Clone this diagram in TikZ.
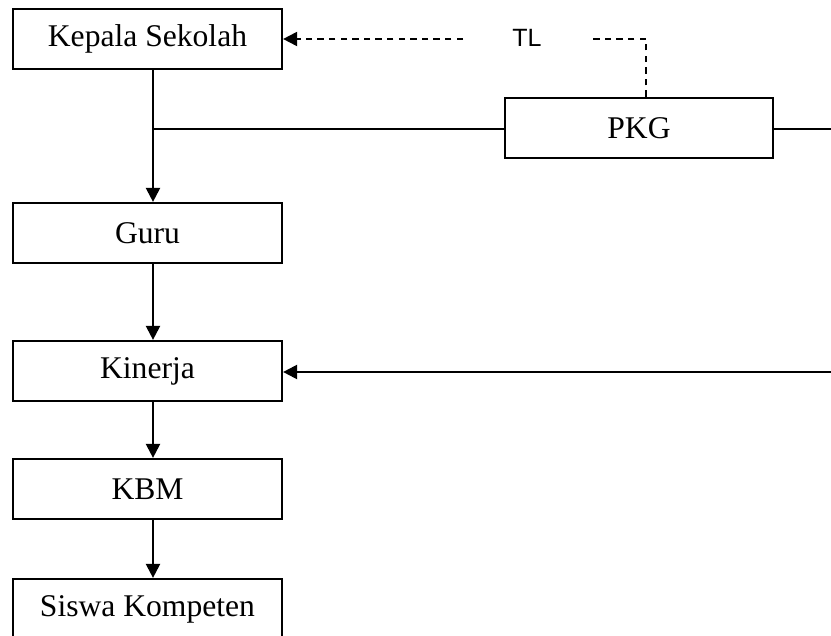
\documentclass[tikz,border=0pt]{standalone}
\usepackage{fontspec}
\setmainfont{Liberation Serif}
\newfontfamily\tlfont{Liberation Sans}
\usetikzlibrary{arrows.meta}
\begin{document}
\begin{tikzpicture}[x=0.5pt,y=-0.5pt,
  box/.style={draw,line width=1.1pt,minimum width=134.5pt,minimum height=30pt,inner sep=0pt,font=\fontsize{15.8}{18}\selectfont},
  conn/.style={line width=1.1pt},
  arr/.style={conn,-{Triangle[length=7pt,width=7pt]}},
  dashline/.style={line width=1pt,dash pattern=on 3.2pt off 2.6pt},
  dasharr/.style={dashline,-{Triangle[length=7pt,width=7pt]}}]
\useasboundingbox (0,0) rectangle (831,636);
\node[box] (kepala) at (147.5,39) {Kepala Sekolah};
\node[box] (guru) at (147.5,233) {Guru};
\node[box] (kinerja) at (147.5,371) {Kinerja};
\node[box] (kbm) at (147.5,489) {KBM};
\node[box] (siswa) at (147.5,609) {Siswa Kompeten};
\node[box,minimum width=134pt] (pkg) at (639,128) {PKG};
\node[font=\tlfont\fontsize{12.5}{14}\selectfont,inner sep=0pt] (tl) at (527,38) {TL};
\coordinate (spine) at (153,0);
\coordinate (junc) at (153,129);
\coordinate (redge) at (831,129);
\coordinate (kedge) at (831,372);
\coordinate (dleft) at (463,39);
\coordinate (dright) at (590,39);
\coordinate (dcorner) at (646,39);
% main chain
\draw[arr] (kepala.south -| spine) -- (guru.north -| spine);
\draw[conn] (junc) -- (junc -| pkg.west);
\draw[conn] (junc -| pkg.east) -- (redge);
\draw[arr] (guru.south -| spine) -- (kinerja.north -| spine);
\draw[arr] (kinerja.south -| spine) -- (kbm.north -| spine);
\draw[arr] (kbm.south -| spine) -- (siswa.north -| spine);
\draw[arr] (kedge) -- (kedge -| kinerja.east);
% dashed feedback
\draw[dashline] (pkg.north -| dcorner) -- (dcorner) -- (dright);
\draw[dasharr] (dleft) -- (dleft -| kepala.east);
\end{tikzpicture}
\end{document}
